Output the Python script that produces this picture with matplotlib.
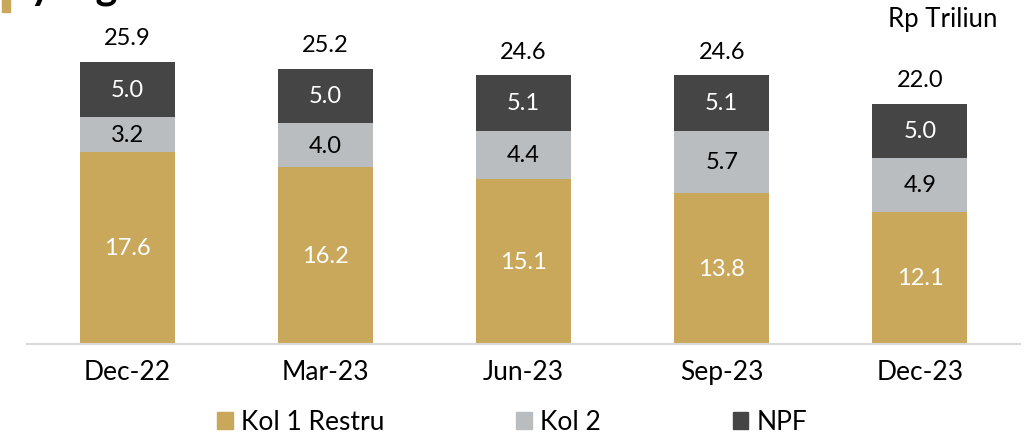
import matplotlib.pyplot as plt
import numpy as np
from matplotlib.patches import Patch, Rectangle

plt.rcParams['font.family'] = ['Lato', 'DejaVu Sans']

periods = ['Dec-22', 'Mar-23', 'Jun-23', 'Sep-23', 'Dec-23']
kol1_restru = [17.6, 16.2, 15.1, 13.8, 12.1]
kol2 = [3.2, 4.0, 4.4, 5.7, 4.9]
npf = [5.0, 5.0, 5.1, 5.1, 5.0]
totals = [25.9, 25.2, 24.6, 24.6, 22.0]

c_gold = '#C9A85C'
c_gray = '#B9BDC0'
c_dark = '#454545'

fig = plt.figure(figsize=(10.3, 4.39), dpi=100)
ax = fig.add_axes([27/1030, 94/439, 993/1030, 345/439])

x = np.arange(len(periods))
w = 0.48
k1 = np.array(kol1_restru)
k2 = np.array(kol2)
n = np.array(npf)

ax.bar(x, k1, w, color=c_gold)
ax.bar(x, k2, w, bottom=k1, color=c_gray)
ax.bar(x, n, w, bottom=k1 + k2, color=c_dark)

for i in range(len(x)):
    ax.text(x[i], k1[i] / 2, f'{k1[i]:.1f}', ha='center', va='center', color='white', fontsize=17)
    ax.text(x[i], k1[i] + k2[i] / 2, f'{k2[i]:.1f}', ha='center', va='center', color='black', fontsize=17)
    ax.text(x[i], k1[i] + k2[i] + n[i] / 2, f'{n[i]:.1f}', ha='center', va='center', color='white', fontsize=17)
    ax.text(x[i], totals[i] + 1.2, f'{totals[i]:.1f}', ha='center', va='bottom', color='black', fontsize=17)

ax.set_xlim(-0.505, 4.505)
ax.set_ylim(0, 31.56)
ax.set_xticks(x)
ax.set_xticklabels(periods, fontsize=19)
ax.tick_params(axis='x', length=0, pad=11)
ax.set_yticks([])
for s in ['top', 'left', 'right']:
    ax.spines[s].set_visible(False)
ax.spines['bottom'].set_color('#D9D9D9')
ax.spines['bottom'].set_linewidth(1.5)

fig.text(998/1030, 1 - 20/439, 'Rp Triliun', ha='right', va='center', fontsize=18.5)

# cropped title at the top
fig.patches.append(Rectangle((2/1030, 1 - 13/439), 8/1030, 13/439, transform=fig.transFigure,
                             color=c_gold))
fig.text(30/1030, 1 + 1/439, 'yang', ha='left', va='baseline', fontsize=30, fontweight='bold')

handles = [Patch(color=c_gold, label='Kol 1 Restru'),
           Patch(color=c_gray, label='Kol 2'),
           Patch(color=c_dark, label='NPF')]
fig.legend(handles=handles, loc='center', bbox_to_anchor=(512/1030, 1 - 423/439), ncol=3,
           frameon=False, fontsize=19, handlelength=0.6, handleheight=0.6,
           handletextpad=0.3, columnspacing=5.0)

fig.savefig('out.png', dpi=100)
